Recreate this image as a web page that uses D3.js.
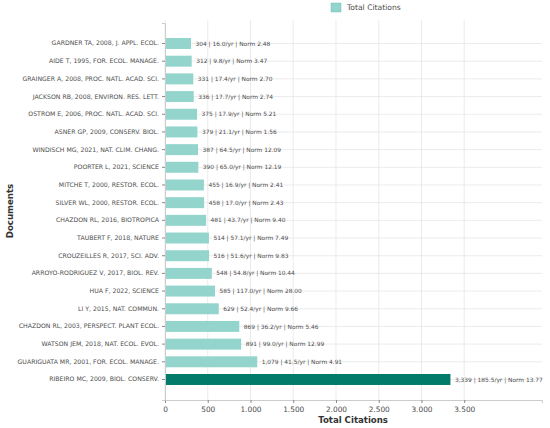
<!DOCTYPE html>
<html>
<head>
<meta charset="utf-8">
<script src="https://cdn.jsdelivr.net/npm/d3@7.9.0/dist/d3.min.js"></script>
<style>
  body { margin: 0; background: #fff; }
  svg { font-family: "DejaVu Sans", sans-serif; }
</style>
</head>
<body>
<svg id="chart" width="550" height="428"></svg>
<script>
// data, top to bottom as drawn
const documents = [
  "GARDNER TA, 2008, J. APPL. ECOL.",
  "AIDE T, 1995, FOR. ECOL. MANAGE.",
  "GRAINGER A, 2008, PROC. NATL. ACAD. SCI.",
  "JACKSON RB, 2008, ENVIRON. RES. LETT.",
  "OSTROM E, 2006, PROC. NATL. ACAD. SCI.",
  "ASNER GP, 2009, CONSERV. BIOL.",
  "WINDISCH MG, 2021, NAT. CLIM. CHANG.",
  "POORTER L, 2021, SCIENCE",
  "MITCHE T, 2000, RESTOR. ECOL.",
  "SILVER WL, 2000, RESTOR. ECOL.",
  "CHAZDON RL, 2016, BIOTROPICA",
  "TAUBERT F, 2018, NATURE",
  "CROUZEILLES R, 2017, SCI. ADV.",
  "ARROYO-RODRIGUEZ V, 2017, BIOL. REV.",
  "HUA F, 2022, SCIENCE",
  "LI Y, 2015, NAT. COMMUN.",
  "CHAZDON RL, 2003, PERSPECT. PLANT ECOL.",
  "WATSON JEM, 2018, NAT. ECOL. EVOL.",
  "GUARIGUATA MR, 2001, FOR. ECOL. MANAGE.",
  "RIBEIRO MC, 2009, BIOL. CONSERV."
];
const citations = [304, 312, 331, 336, 375, 379, 387, 390, 455, 458,
                   481, 514, 516, 548, 585, 629, 869, 891, 1079, 3339];
const perYear = ["16.0", "9.8", "17.4", "17.7", "17.9", "21.1", "64.5", "65.0", "16.9", "17.0",
                 "43.7", "57.1", "51.6", "54.8", "117.0", "52.4", "36.2", "99.0", "41.5", "185.5"];
const normCit = ["2.48", "3.47", "2.70", "2.74", "5.21", "1.56", "12.09", "12.19", "2.41", "2.43",
                 "9.40", "7.49", "9.83", "10.44", "28.00", "9.66", "5.46", "12.99", "4.91", "13.77"];
const xTicks = [0, 500, 1000, 1500, 2000, 2500, 3000, 3500];

const rows = documents.map((d, i) => ({
  doc: d, value: citations[i], perYear: perYear[i], norm: normCit[i]
}));

const margin = { top: 20, right: 8, bottom: 28, left: 165 };
const width = 550 - margin.left - margin.right;
const height = 428 - margin.top - margin.bottom;

const fmt = d3.formatLocale({ decimal: ",", thousands: ".", grouping: [3], currency: ["", ""] }).format(",d");
const fmtLabel = d3.format(",d");

const svg = d3.select("#chart");
const g = svg.append("g").attr("transform", `translate(${margin.left},${margin.top})`);

const x = d3.scaleLinear().domain([0, 4410]).range([0, width]);
const y = d3.scaleBand().domain(documents).range([3, height]).paddingInner(0.38).paddingOuter(0.85);

const maxVal = d3.max(citations);
const textColor = "#4d4d4d";

// grid
g.append("g").selectAll("line").data(xTicks).join("line")
  .attr("x1", d => x(d)).attr("x2", d => x(d))
  .attr("y1", 0).attr("y2", height)
  .attr("stroke", "#e6e6e6").attr("stroke-width", 0.8);
g.append("g").selectAll("line").data(documents).join("line")
  .attr("x1", 0).attr("x2", width)
  .attr("y1", d => y(d) + y.bandwidth() / 2).attr("y2", d => y(d) + y.bandwidth() / 2)
  .attr("stroke", "#e6e6e6").attr("stroke-width", 0.8);

// bars
g.append("g").selectAll("rect").data(rows).join("rect")
  .attr("x", 0)
  .attr("y", d => y(d.doc))
  .attr("width", d => x(d.value))
  .attr("height", y.bandwidth())
  .attr("fill", d => d.value === maxVal ? "#027b6b" : "#93d5cd");

// value labels
g.append("g").selectAll("text").data(rows).join("text")
  .attr("x", d => x(d.value) + 4.5)
  .attr("y", d => y(d.doc) + y.bandwidth() / 2)
  .attr("dy", "0.35em")
  .attr("font-size", 5.9)
  .attr("fill", textColor)
  .text(d => `${fmtLabel(d.value)} | ${d.perYear}/yr | Norm ${d.norm}`);

// axes
const xAxis = g.append("g").attr("transform", `translate(0,${height})`)
  .call(d3.axisBottom(x).tickValues(xTicks).tickFormat(fmt).tickSize(3).tickPadding(4));
const yAxis = g.append("g")
  .call(d3.axisLeft(y).tickSize(3).tickPadding(3));
[xAxis, yAxis].forEach(a => {
  a.select(".domain").attr("stroke", "#cccccc");
  a.selectAll(".tick line").attr("stroke", "#888");
  a.selectAll(".tick text").attr("fill", textColor).attr("font-size", 6.2)
    .attr("font-family", "DejaVu Sans, sans-serif");
});
xAxis.selectAll(".tick text").attr("font-size", 7.4);

// axis titles
svg.append("text")
  .attr("x", margin.left + x(2200)).attr("y", 423)
  .attr("text-anchor", "middle").attr("font-size", 8.6).attr("font-weight", "bold").attr("fill", "#333")
  .text("Total Citations");
svg.append("text")
  .attr("transform", `translate(13,211) rotate(-90)`)
  .attr("text-anchor", "middle").attr("font-size", 8.6).attr("font-weight", "bold").attr("fill", "#333")
  .text("Documents");

// legend
const legend = svg.append("g").attr("transform", "translate(331,3)");
legend.append("rect").attr("width", 10).attr("height", 9).attr("fill", "#93d5cd")
  .attr("stroke", "#6fbfb5").attr("stroke-width", 0.5);
legend.append("text").attr("x", 16).attr("y", 4.5).attr("dy", "0.35em")
  .attr("font-size", 7.6).attr("fill", textColor).text("Total Citations");
</script>
</body>
</html>
